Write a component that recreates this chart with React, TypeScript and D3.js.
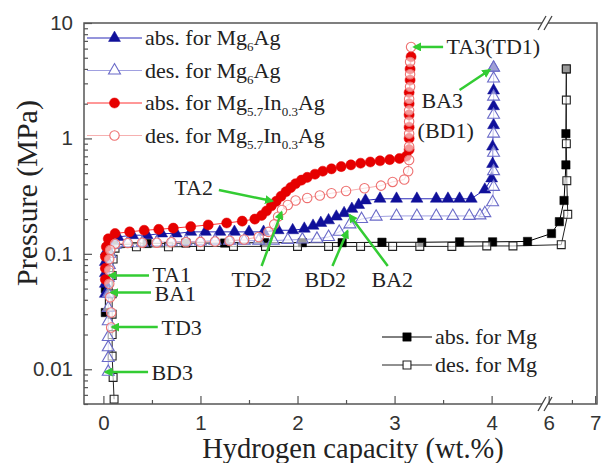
import { useEffect, useRef } from "react"
import * as d3 from "d3"

type Pt = [number, number]

// axis ticks
const xTicks = [0, 1, 2, 3, 4, 6, 7]
const xMinorTicks = [0.5, 1.5, 2.5, 3.5, 6.5]
const yTicks = [0.01, 0.1, 1, 10]
const yTickLabels = ["0.01", "0.1", "1", "10"]

// Mg6Ag absorption (x = wt.%, p = MPa)
const mg6agAbs: Pt[] = [
  [0.02, 0.045], [0.02, 0.055], [0.02, 0.068], [0.02, 0.085], [0.03, 0.105], [0.05, 0.125],
  [0.15, 0.14], [0.3, 0.145], [0.45, 0.145], [0.6, 0.15], [0.75, 0.15], [0.9, 0.155],
  [1.05, 0.155], [1.2, 0.155], [1.35, 0.155], [1.5, 0.155], [1.65, 0.155], [1.8, 0.16],
  [1.95, 0.16], [2.07, 0.165], [2.16, 0.175], [2.24, 0.185], [2.32, 0.195], [2.4, 0.21],
  [2.48, 0.225], [2.56, 0.245], [2.63, 0.265], [2.7, 0.29], [2.85, 0.3], [3.02, 0.3],
  [3.23, 0.3], [3.43, 0.3], [3.55, 0.3], [3.67, 0.3], [3.79, 0.3], [3.93, 0.36],
  [4.0, 0.45], [4.01, 0.6], [4.01, 0.85], [4.02, 1.3], [4.02, 1.9], [4.02, 2.6], [4.02, 4.1],
]

// Mg6Ag desorption
const mg6agDes: Pt[] = [
  [4.02, 4.1], [4.02, 3.3], [4.02, 2.3], [4.02, 1.6], [4.02, 1.1], [4.02, 0.75], [4.02, 0.52],
  [4.02, 0.38], [4.01, 0.28], [3.93, 0.225], [3.88, 0.215], [3.77, 0.213], [3.6, 0.213],
  [3.43, 0.213], [3.23, 0.213], [3.02, 0.213], [2.81, 0.21], [2.66, 0.2], [2.54, 0.18],
  [2.43, 0.155], [2.32, 0.14], [2.2, 0.135], [2.05, 0.133], [1.9, 0.132], [1.75, 0.13],
  [1.6, 0.13], [1.45, 0.13], [1.3, 0.13], [1.15, 0.13], [1.0, 0.128], [0.85, 0.128],
  [0.7, 0.127], [0.55, 0.126], [0.4, 0.125], [0.25, 0.124], [0.12, 0.12], [0.07, 0.1],
  [0.06, 0.08], [0.05, 0.062], [0.05, 0.045], [0.05, 0.034], [0.05, 0.026], [0.05, 0.019],
  [0.05, 0.0155], [0.05, 0.0125], [0.05, 0.0095],
]

// Mg5.7In0.3Ag absorption
const mgInAgAbs: Pt[] = [
  [0.02, 0.06], [0.02, 0.075], [0.02, 0.095], [0.03, 0.115], [0.05, 0.135], [0.12, 0.15],
  [0.27, 0.155], [0.42, 0.16], [0.57, 0.163], [0.72, 0.167], [0.9, 0.172], [1.08, 0.178],
  [1.27, 0.185], [1.43, 0.192], [1.56, 0.2], [1.63, 0.215], [1.68, 0.235], [1.73, 0.26],
  [1.78, 0.285], [1.83, 0.315], [1.88, 0.345], [1.93, 0.375], [1.98, 0.405], [2.04, 0.435],
  [2.1, 0.46], [2.18, 0.49], [2.26, 0.52], [2.35, 0.545], [2.45, 0.57], [2.55, 0.59],
  [2.65, 0.61], [2.75, 0.625], [2.85, 0.64], [2.95, 0.655], [3.05, 0.67], [3.12, 0.7],
  [3.15, 0.8], [3.15, 1.0], [3.15, 1.25], [3.15, 1.6], [3.15, 2.0], [3.15, 2.5], [3.16, 3.2],
  [3.16, 4.0], [3.17, 5.1],
]

// Mg5.7In0.3Ag desorption
const mgInAgDes: Pt[] = [
  [3.17, 6.2], [3.16, 4.6], [3.16, 3.6], [3.16, 2.8], [3.15, 2.2], [3.15, 1.75], [3.15, 1.4],
  [3.15, 1.1], [3.15, 0.85], [3.15, 0.65], [3.14, 0.52], [3.1, 0.44], [2.98, 0.42],
  [2.86, 0.39], [2.69, 0.37], [2.5, 0.35], [2.35, 0.335], [2.23, 0.32], [2.1, 0.305],
  [1.98, 0.29], [1.9, 0.265], [1.84, 0.24], [1.8, 0.21], [1.76, 0.18], [1.7, 0.155],
  [1.6, 0.14], [1.45, 0.133], [1.3, 0.13], [1.15, 0.128], [1.0, 0.127], [0.85, 0.126],
  [0.7, 0.126], [0.55, 0.125], [0.4, 0.125], [0.25, 0.124], [0.12, 0.122], [0.07, 0.108],
  [0.06, 0.09], [0.06, 0.072], [0.06, 0.055], [0.07, 0.042], [0.08, 0.031], [0.08, 0.023],
]

// pure Mg absorption
const mgAbs: Pt[] = [
  [0.02, 0.031], [0.02, 0.05], [0.03, 0.083], [0.05, 0.11], [0.1, 0.12], [0.45, 0.123],
  [0.85, 0.124], [1.25, 0.124], [1.66, 0.125], [2.05, 0.125], [2.46, 0.125], [2.87, 0.126],
  [3.28, 0.126], [3.67, 0.127], [4.01, 0.127], [4.37, 0.128], [6.06, 0.15], [6.23, 0.19],
  [6.33, 0.29], [6.37, 0.59], [6.37, 1.1], [6.38, 4.0],
]

// pure Mg desorption
const mgDes: Pt[] = [
  [6.38, 4.0], [6.38, 2.15], [6.38, 0.9], [6.39, 0.43], [6.41, 0.22], [6.27, 0.12],
  [4.22, 0.117], [3.95, 0.117], [3.59, 0.116], [3.26, 0.116], [2.98, 0.116], [2.65, 0.116],
  [2.32, 0.116], [2.0, 0.116], [1.67, 0.116], [1.34, 0.116], [1.0, 0.116], [0.67, 0.115],
  [0.34, 0.115], [0.12, 0.112], [0.1, 0.09], [0.09, 0.065], [0.09, 0.045], [0.09, 0.03],
  [0.09, 0.02], [0.09, 0.013], [0.1, 0.0085], [0.11, 0.0055],
]

// labels: text anchor and arrow (from -> to), all in data units
const annotations: { text: string; at: Pt; from: Pt; to: Pt }[] = [
  { text: "TA1", at: [0.505, 0.066], from: [0.47, 0.065], to: [0.06, 0.065] },
  { text: "BA1", at: [0.526, 0.0455], from: [0.49, 0.0462], to: [0.08, 0.0462] },
  { text: "TD3", at: [0.598, 0.0232], from: [0.56, 0.0232], to: [0.09, 0.0232] },
  { text: "BD3", at: [0.495, 0.00946], from: [0.46, 0.00946], to: [0.02, 0.00946] },
  { text: "TA2", at: [0.732, 0.372], from: [1.19, 0.357], to: [1.74, 0.287] },
  { text: "TD2", at: [1.32, 0.0594], from: [1.63, 0.0784], to: [1.835, 0.23] },
  { text: "BD2", at: [2.072, 0.0594], from: [2.36, 0.0784], to: [2.515, 0.158] },
  { text: "BA2", at: [2.763, 0.0594], from: [2.93, 0.0784], to: [2.536, 0.217] },
  { text: "TA3(TD1)", at: [3.536, 6.2], from: [3.5, 6.2], to: [3.2, 6.2] },
  { text: "BA3", at: [3.278, 2.15], from: [3.67, 2.63], to: [3.98, 3.91] },
]
const extraLabels: { text: string; at: Pt }[] = [{ text: "(BD1)", at: [3.237, 1.18] }]

const W = 603
const H = 463
const SERIF = "Liberation Serif, DejaVu Serif, serif"
const SANS = "Liberation Sans, Arial, sans-serif"
const GREEN = "#33cc33"

export default function App() {
  const svgRef = useRef<SVGSVGElement>(null)

  useEffect(() => {
    if (!svgRef.current) return
    const root = d3.select(svgRef.current)
    root.selectAll("*").remove()

    const left = 84, right = 597, top = 23, bottom = 404
    const brk = 545

    // broken x axis: two linear pieces
    const x = d3.scaleLinear().domain([-0.2, 4.55, 5.92, 7.04]).range([left, brk, brk, right])
    const y = d3.scaleLog().domain([0.005, 10]).range([bottom, top])

    const defs = root.append("defs")
    defs
      .append("marker")
      .attr("id", "ah")
      .attr("viewBox", "0 0 10 10")
      .attr("refX", 8)
      .attr("refY", 5)
      .attr("markerWidth", 3.6)
      .attr("markerHeight", 3.6)
      .attr("orient", "auto")
      .append("path")
      .attr("d", "M0,0L10,5L0,10z")
      .attr("fill", GREEN)

    const sym = (type: d3.SymbolType, size: number) => d3.symbol().type(type).size(size)()

    const series = [
      { data: mgAbs, type: d3.symbolSquare, size: 70, filled: true, color: "#000", line: "#000" },
      { data: mgDes, type: d3.symbolSquare, size: 62, filled: false, color: "#222", line: "#222" },
      { data: mg6agAbs, type: d3.symbolTriangle, size: 62, filled: true, color: "#10109a", line: "#2a2ab8" },
      { data: mg6agDes, type: d3.symbolTriangle, size: 62, filled: false, color: "#6a6ac8", line: "#a0a0e0" },
      { data: mgInAgAbs, type: d3.symbolCircle, size: 80, filled: true, color: "#e60000", line: "#ff3030" },
      { data: mgInAgDes, type: d3.symbolCircle, size: 70, filled: false, color: "#ee7070", line: "#f6b0b0" },
    ]

    const line = d3
      .line<Pt>()
      .x((d) => x(d[0]))
      .y((d) => y(d[1]))

    const plot = root.append("g")

    series.forEach((s) => {
      plot
        .append("path")
        .datum(s.data)
        .attr("fill", "none")
        .attr("stroke", s.line)
        .attr("stroke-width", 1)
        .attr("d", line)
    })
    series.forEach((s) => {
      plot
        .append("g")
        .selectAll("path")
        .data(s.data)
        .join("path")
        .attr("transform", (d) => `translate(${x(d[0])},${y(d[1])})`)
        .attr("d", sym(s.type, s.size))
        .attr("fill", s.filled ? s.color : "#fff")
        .attr("fill-opacity", s.filled ? 1 : 0.6)
        .attr("stroke", s.color)
        .attr("stroke-width", s.filled ? 0.5 : 1.1)
    })

    // frame
    root
      .append("rect")
      .attr("x", left)
      .attr("y", top)
      .attr("width", right - left)
      .attr("height", bottom - top)
      .attr("fill", "none")
      .attr("stroke", "#555")
      .attr("stroke-width", 1.5)

    // y axis
    const yMinor = y.ticks().filter((t) => !yTicks.some((m) => Math.abs(m - t) < 1e-9))
    const yAxis = root.append("g").attr("transform", `translate(${left},0)`)
    yAxis
      .call(
        d3
          .axisLeft(y)
          .tickValues(yTicks)
          .tickSize(-8)
          .tickPadding(11)
          .tickFormat((_, i) => yTickLabels[i]),
      )
      .call((g) => g.select(".domain").remove())
    yAxis
      .append("g")
      .call(d3.axisLeft(y).tickValues(yMinor).tickSize(-4).tickFormat(() => ""))
      .call((g) => g.select(".domain").remove())

    // x axis
    const xAxis = root.append("g").attr("transform", `translate(0,${bottom})`)
    xAxis
      .call(d3.axisBottom(x).tickValues(xTicks).tickSize(-8).tickPadding(11).tickFormat((d) => `${d}`))
      .call((g) => g.select(".domain").remove())
    xAxis
      .append("g")
      .call(d3.axisBottom(x).tickValues(xMinorTicks).tickSize(-4).tickFormat(() => ""))
      .call((g) => g.select(".domain").remove())

    root.selectAll(".tick line").attr("stroke", "#555").attr("stroke-width", 1.2)
    root
      .selectAll(".tick text")
      .attr("font-family", SANS)
      .attr("font-size", 20.5)
      .attr("fill", "#333")

    // axis break marks
    ;[top, bottom].forEach((yy) => {
      root.append("rect").attr("x", brk - 3).attr("y", yy - 2).attr("width", 6).attr("height", 4).attr("fill", "#fff")
      ;[-3, 3].forEach((dx) => {
        root
          .append("line")
          .attr("x1", brk + dx - 4)
          .attr("y1", yy + 7)
          .attr("x2", brk + dx + 4)
          .attr("y2", yy - 7)
          .attr("stroke", "#444")
          .attr("stroke-width", 1.3)
      })
    })

    // axis titles
    root
      .append("text")
      .attr("x", 353)
      .attr("y", 458)
      .attr("text-anchor", "middle")
      .attr("font-family", SERIF)
      .attr("font-size", 28.5)
      .attr("fill", "#222")
      .text("Hydrogen capacity (wt.%)")
    root
      .append("text")
      .attr("transform", "translate(37,193) rotate(-90)")
      .attr("text-anchor", "middle")
      .attr("font-family", SERIF)
      .attr("font-size", 30)
      .attr("fill", "#222")
      .text("Pressure (MPa)")

    // annotations
    const ann = root.append("g")
    annotations.forEach((a) => {
      ann
        .append("line")
        .attr("x1", x(a.from[0]))
        .attr("y1", y(a.from[1]))
        .attr("x2", x(a.to[0]))
        .attr("y2", y(a.to[1]))
        .attr("stroke", GREEN)
        .attr("stroke-width", 2.5)
        .attr("marker-end", "url(#ah)")
    })
    ;[...annotations, ...extraLabels].forEach((a) => {
      ann
        .append("text")
        .attr("x", x(a.at[0]))
        .attr("y", y(a.at[1]))
        .attr("dy", "0.34em")
        .attr("font-family", SERIF)
        .attr("font-size", 22)
        .attr("fill", "#222")
        .text(a.text)
    })

    // legends
    const legendRow = (
      g: d3.Selection<SVGGElement, unknown, null, undefined>,
      yy: number,
      x0: number,
      x1: number,
      s: (typeof series)[number],
      parts: [string, boolean][],
    ) => {
      g.append("line").attr("x1", x0).attr("x2", x1).attr("y1", yy).attr("y2", yy).attr("stroke", s.line).attr("stroke-width", 1)
      g.append("path")
        .attr("transform", `translate(${(x0 + x1) / 2},${yy})`)
        .attr("d", sym(s.type, s.size))
        .attr("fill", s.filled ? s.color : "#fff")
        .attr("stroke", s.color)
        .attr("stroke-width", s.filled ? 0.5 : 1.1)
      const t = g
        .append("text")
        .attr("x", x1 + 3)
        .attr("y", yy + 7)
        .attr("font-family", SERIF)
        .attr("font-size", 22)
        .attr("fill", "#222")
      let sub = false
      parts.forEach(([str, isSub]) => {
        const dy = isSub && !sub ? 6 : !isSub && sub ? -6 : 0
        t.append("tspan").attr("dy", dy).attr("font-size", isSub ? 13 : 22).text(str)
        sub = isSub
      })
    }

    const lg = root.append("g")
    legendRow(lg, 38, 87, 142, series[2], [["abs. for Mg", false], ["6", true], ["Ag", false]])
    legendRow(lg, 70.5, 87, 142, series[3], [["des. for Mg", false], ["6", true], ["Ag", false]])
    legendRow(lg, 103, 87, 142, series[4], [["abs. for Mg", false], ["5.7", true], ["In", false], ["0.3", true], ["Ag", false]])
    legendRow(lg, 135.5, 87, 142, series[5], [["des. for Mg", false], ["5.7", true], ["In", false], ["0.3", true], ["Ag", false]])
    legendRow(lg, 337, 382, 432, series[0], [["abs. for Mg", false]])
    legendRow(lg, 365, 382, 432, series[1], [["des. for Mg", false]])
  }, [])

  return (
    <>
      <style>{`body{margin:0;background:#fff}`}</style>
      <svg ref={svgRef} width={W} height={H} style={{ display: "block" }} />
    </>
  )
}
